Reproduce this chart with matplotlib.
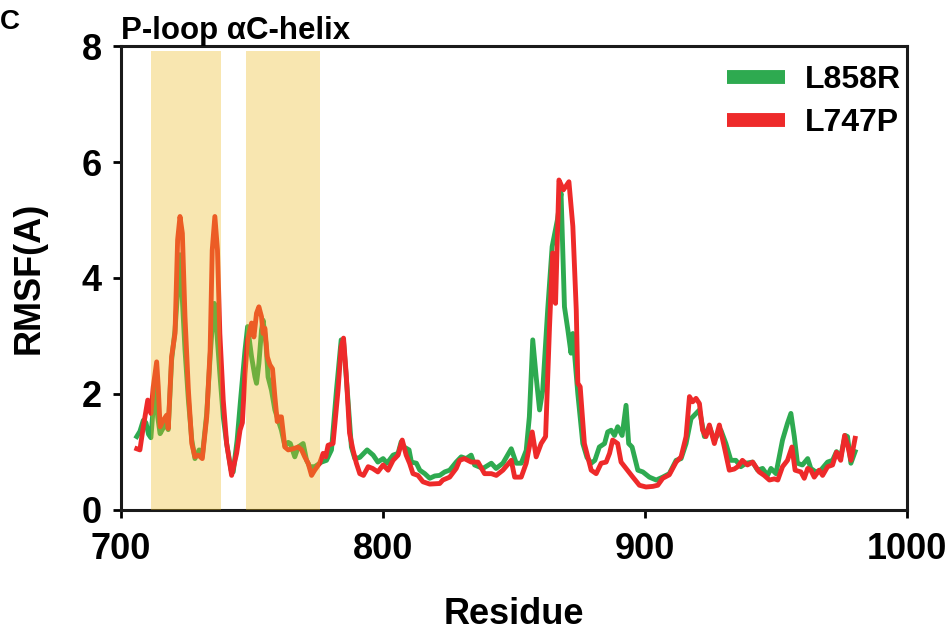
import matplotlib
matplotlib.use('Agg')
import matplotlib.pyplot as plt

plt.rcParams['font.family'] = ['Liberation Sans', 'DejaVu Sans']
plt.rcParams['font.weight'] = 'bold'

# L858R (green)
res_l858r = [706.0, 707.2, 708.5, 709.5, 710.5, 711.4, 712.3, 713.2, 714.0, 714.9,
             716.0, 716.8, 718.0, 719.3, 720.6, 721.8, 722.5, 723.4, 724.4, 725.7,
             727.0, 728.2, 729.8, 731.0, 732.7, 734.0, 734.8, 735.6, 736.6, 737.7,
             739.0, 740.3, 742.0, 742.8, 744.3, 745.6, 747.3, 748.3, 749.8, 751.1,
             751.7, 752.6, 753.6, 754.2, 755.3, 756.1, 757.4, 758.7, 760.0, 761.2,
             762.5, 763.8, 764.6, 766.3, 767.6, 769.5, 770.8, 772.0, 773.9, 776.5,
             778.4, 780.3, 782.2, 784.0, 784.9, 786.6, 787.9, 789.2, 791.1, 793.9,
             796.2, 798.0, 800.0, 801.5, 803.8, 805.7, 806.9, 808.0, 809.9, 810.8,
             812.7, 814.0, 815.9, 817.8, 819.7, 821.6, 823.5, 825.4, 827.9, 829.8,
             831.7, 833.6, 834.9, 838.1, 841.3, 843.1, 845.7, 848.9, 850.8, 852.7,
             854.6, 855.8, 857.1, 858.4, 859.7, 860.9, 862.8, 864.5, 866.5, 867.9,
             869.2, 870.5, 871.7, 872.4, 874.3, 876.2, 877.8, 879.4, 880.8, 882.5,
             884.5, 885.7, 887.0, 888.3, 889.5, 891.2, 892.7, 893.7, 895.0, 897.2,
             899.1, 901.6, 904.2, 906.7, 909.2, 911.8, 913.7, 915.6, 917.5, 919.4,
             920.7, 922.6, 924.5, 926.4, 928.9, 930.8, 932.7, 934.6, 936.5, 938.5,
             941.0, 942.9, 944.8, 946.7, 948.0, 949.9, 952.4, 954.3, 955.6, 956.9,
             958.1, 960.0, 962.0, 963.2, 965.1, 967.0, 969.6, 971.5, 973.0, 974.6,
             976.3, 977.2, 978.5, 980.1]
rmsf_l858r = [1.26, 1.35, 1.54, 1.50, 1.30, 1.24, 1.77, 2.15, 1.60, 1.31,
              1.40, 1.52, 1.38, 2.58, 3.10, 3.90, 4.40, 3.62, 2.76, 1.89,
              1.20, 0.88, 1.03, 0.92, 1.66, 2.64, 3.16, 3.56, 3.04, 2.35,
              1.60, 1.14, 0.68, 0.65, 1.20, 1.89, 2.75, 3.16, 2.64, 2.29,
              2.18, 2.52, 3.10, 3.27, 2.87, 2.29, 2.06, 1.72, 1.54, 1.37,
              1.10, 1.16, 1.14, 0.91, 1.08, 1.14, 0.85, 0.74, 0.74, 0.82,
              0.85, 1.03, 2.06, 2.93, 2.90, 1.89, 1.08, 0.88, 0.90, 1.03,
              0.94, 0.82, 0.88, 0.80, 0.94, 0.97, 1.17, 1.08, 1.03, 0.82,
              0.80, 0.68, 0.62, 0.54, 0.58, 0.59, 0.65, 0.68, 0.82, 0.91,
              0.88, 0.94, 0.77, 0.71, 0.80, 0.71, 0.80, 1.05, 0.80, 0.80,
              1.02, 1.60, 2.93, 2.29, 1.72, 2.06, 3.45, 4.54, 5.00, 5.46,
              3.50, 3.10, 2.70, 3.04, 2.00, 1.14, 0.90, 0.80, 0.85, 1.08,
              1.14, 1.34, 1.37, 1.28, 1.43, 1.28, 1.80, 1.14, 1.08, 0.68,
              0.65, 0.56, 0.51, 0.56, 0.62, 0.85, 0.88, 1.14, 1.57, 1.66,
              1.72, 1.26, 1.43, 1.20, 1.37, 1.14, 0.85, 0.85, 0.74, 0.80,
              0.82, 0.68, 0.71, 0.59, 0.71, 0.62, 1.20, 1.49, 1.66, 1.26,
              0.80, 0.77, 0.88, 0.71, 0.65, 0.68, 0.82, 0.85, 1.00, 0.91,
              1.28, 1.26, 0.80, 1.00]

# L747P (red)
res_l747p = [706.0, 707.2, 708.5, 710.2, 711.4, 712.3, 713.6, 714.2, 714.9, 716.1,
             717.4, 718.0, 719.3, 720.6, 721.6, 722.5, 723.4, 724.4, 725.7, 727.0,
             728.2, 729.5, 731.0, 732.7, 734.0, 734.8, 735.8, 736.8, 737.7, 739.0,
             740.3, 742.2, 744.1, 745.4, 746.3, 747.3, 748.3, 749.8, 750.7, 751.7,
             752.6, 753.6, 754.2, 754.9, 755.8, 756.8, 757.8, 758.7, 759.6, 760.4,
             761.2, 762.5, 763.8, 765.7, 767.6, 768.9, 770.1, 771.4, 772.7, 773.9,
             775.8, 777.1, 778.1, 779.0, 780.9, 782.8, 784.0, 784.9, 785.9, 787.2,
             788.5, 789.8, 791.1, 792.5, 794.3, 796.0, 798.0, 800.0, 801.9, 803.8,
             805.7, 807.3, 808.8, 810.1, 811.4, 813.3, 815.2, 817.8, 821.6, 822.8,
             825.4, 827.9, 829.2, 831.0, 833.6, 836.2, 838.7, 841.3, 843.2, 845.7,
             848.9, 850.2, 852.7, 854.6, 856.9, 858.4, 860.3, 862.0, 863.5, 864.7,
             865.8, 867.1, 868.8, 870.9, 872.4, 873.7, 874.3, 875.2, 876.8, 879.4,
             881.3, 883.2, 885.1, 886.4, 887.6, 889.5, 890.8, 892.7, 895.3, 897.8,
             900.3, 902.9, 904.8, 906.7, 909.2, 911.8, 913.7, 915.6, 916.9, 918.1,
             919.4, 920.7, 921.9, 923.2, 924.5, 926.4, 928.3, 930.2, 932.1, 934.0,
             935.3, 937.1, 939.0, 941.0, 943.5, 945.4, 947.4, 949.3, 950.6, 952.4,
             954.3, 956.0, 957.2, 959.4, 960.7, 962.0, 963.2, 964.5, 966.4, 967.7,
             969.6, 971.5, 973.0, 974.6, 976.1, 977.2, 978.5, 980.1]
rmsf_l747p = [1.05, 1.03, 1.43, 1.89, 1.66, 2.12, 2.55, 2.12, 1.43, 1.54,
              1.63, 1.40, 2.64, 3.04, 4.66, 5.06, 4.77, 3.33, 2.06, 1.14,
              0.91, 0.94, 0.88, 1.60, 2.75, 4.48, 5.06, 4.48, 3.04, 1.89,
              1.14, 0.59, 0.97, 1.37, 1.50, 2.35, 2.93, 3.22, 2.98, 3.39,
              3.50, 3.33, 3.04, 3.13, 2.64, 2.50, 2.43, 1.95, 1.52, 1.60,
              1.60, 1.08, 1.03, 1.05, 1.08, 1.03, 0.91, 0.80, 0.59, 0.68,
              0.80, 0.97, 0.91, 1.11, 1.14, 2.06, 2.81, 2.96, 2.35, 1.32,
              1.03, 0.80, 0.62, 0.59, 0.74, 0.71, 0.65, 0.77, 0.68, 0.85,
              0.94, 1.20, 0.94, 0.80, 0.62, 0.59, 0.48, 0.44, 0.45, 0.51,
              0.56, 0.71, 0.85, 0.88, 0.82, 0.82, 0.62, 0.62, 0.59, 0.68,
              0.85, 0.56, 0.56, 0.80, 1.34, 0.91, 1.14, 1.26, 3.16, 4.43,
              3.56, 5.69, 5.52, 5.66, 4.89, 3.45, 2.18, 2.12, 1.14, 0.68,
              0.62, 0.80, 0.82, 0.97, 1.20, 1.14, 0.82, 0.71, 0.56, 0.42,
              0.39, 0.40, 0.42, 0.54, 0.60, 0.82, 0.91, 1.26, 1.95, 1.86,
              1.92, 1.83, 1.37, 1.26, 1.46, 1.14, 1.46, 1.08, 0.68, 0.70,
              0.74, 0.85, 0.77, 0.82, 0.65, 0.59, 0.51, 0.53, 0.51, 0.74,
              0.85, 1.08, 0.68, 0.65, 0.54, 0.71, 0.68, 0.56, 0.68, 0.59,
              0.74, 0.77, 0.99, 0.85, 1.28, 1.12, 0.85, 1.23]

# highlighted regions
regions = [(711.5, 738.0), (747.8, 775.8)]
region_title = 'P-loop αC-helix'

fig = plt.figure(figsize=(9.53, 6.33), dpi=100)
ax = fig.add_axes([0.127, 0.195, 0.825, 0.732])

ax.plot(res_l858r, rmsf_l858r, color='#2EAA50', linewidth=3.5, label='L858R', zorder=2)
ax.plot(res_l747p, rmsf_l747p, color='#EE2A2A', linewidth=3.5, label='L747P', zorder=2.1)

for lo, hi in regions:
    ax.axvspan(lo, hi, ymin=0, ymax=0.99, color='#EBBA1D', alpha=0.35, lw=0, zorder=3)

ax.set_xlim(700, 1000)
ax.set_ylim(0, 8)
ax.set_xticks([700, 800, 900, 1000])
ax.set_yticks([0, 2, 4, 6, 8])
for s in ax.spines.values():
    s.set_linewidth(2.2)
    s.set_color('#1a1a1a')
ax.tick_params(direction='out', length=6, width=2, labelsize=26)
ax.tick_params(axis='x', pad=10)
ax.tick_params(axis='y', pad=8)
for lab in ax.get_xticklabels() + ax.get_yticklabels():
    lab.set_fontweight('bold')

ax.set_xlabel('Residue', fontsize=26, fontweight='bold', labelpad=22)
ax.set_ylabel('RMSF(A)', fontsize=26, fontweight='bold', labelpad=25)
ax.set_title(region_title, loc='left', fontsize=22.5, fontweight='bold', pad=1)

leg = ax.legend(loc='upper right', bbox_to_anchor=(1.017, 1.0), frameon=False,
                fontsize=23, handlelength=1.8, handletextpad=0.65,
                labelspacing=0.4, borderaxespad=0.2)
for h in leg.get_lines():
    h.set_linewidth(10)
    h.set_solid_capstyle('butt')

fig.text(0.0, 0.965, 'C', fontsize=20, fontweight='bold', ha='left', va='center')

fig.savefig('out.png', dpi=100)
